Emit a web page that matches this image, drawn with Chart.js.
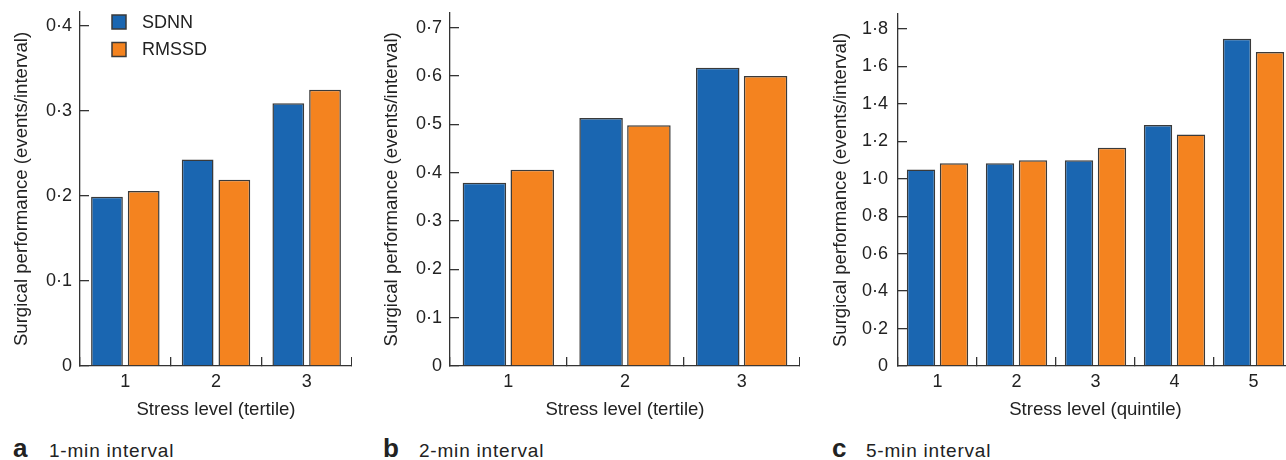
<!DOCTYPE html>
<html>
<head>
<meta charset="utf-8">
<script src="https://cdn.jsdelivr.net/npm/chart.js@4.4.1/dist/chart.umd.min.js"></script>
<style>
  html, body { margin: 0; padding: 0; background: #fff; overflow: hidden; width: 1286px; height: 460px; }
  canvas { position: absolute; top: 0; }
  .lbl { position: absolute; font-family: "Liberation Sans", Arial, sans-serif; color: #222; white-space: nowrap; line-height: 1; }
  .lbl.let { font-size: 26px; font-weight: bold; top: 435px; }
  .lbl.txt { font-size: 19px; letter-spacing: 0.8px; top: 441px; }
</style>
</head>
<body>
<canvas id="panelA" width="352" height="430" style="left:0px"></canvas>
<canvas id="panelB" width="430" height="430" style="left:370px"></canvas>
<canvas id="panelC" width="475" height="430" style="left:818px"></canvas>

<div class="lbl let" style="left:13px">a</div>
<div class="lbl txt" style="left:49px">1-min interval</div>
<div class="lbl let" style="left:383px">b</div>
<div class="lbl txt" style="left:419px">2-min interval</div>
<div class="lbl let" style="left:832px">c</div>
<div class="lbl txt" style="left:866px">5-min interval</div>

<script>
// ---------- dados ----------
const tertis = ["1", "2", "3"];
const quintis = ["1", "2", "3", "4", "5"];

const sdnn1min = [0.199, 0.243, 0.309];
const rmssd1min = [0.206, 0.219, 0.325];

const sdnn2min = [0.379, 0.513, 0.617];
const rmssd2min = [0.406, 0.498, 0.600];

const sdnn5min = [1.049, 1.083, 1.099, 1.287, 1.748];
const rmssd5min = [1.083, 1.099, 1.166, 1.236, 1.677];

const ticks1min = [0, 0.1, 0.2, 0.3, 0.4];
const ticks2min = [0, 0.1, 0.2, 0.3, 0.4, 0.5, 0.6, 0.7];
const ticks5min = [0, 0.2, 0.4, 0.6, 0.8, 1.0, 1.2, 1.4, 1.6, 1.8];

// ---------- estilo ----------
const FONT = '"Liberation Sans", Arial, sans-serif';
const TXT = "#222";
const AXIS = "#333";
const BLUE = "#1a66b1";
const ORANGE = "#f4831f";

// legenda dentro da área do gráfico (só painel a)
const legendaInterna = {
  id: "legendaInterna",
  afterDraw(chart, args, opts) {
    if (!opts.show) return;
    const { ctx, chartArea } = chart;
    ctx.save();
    ctx.font = "18px " + FONT;
    ctx.textBaseline = "middle";
    ctx.textAlign = "left";
    chart.data.datasets.forEach((ds, i) => {
      const x = chartArea.left + 32;
      const y = chartArea.top + 3 + i * 27.5;
      ctx.fillStyle = ds.backgroundColor;
      ctx.fillRect(x, y, 14, 14);
      ctx.strokeStyle = "#3a3a3a";
      ctx.lineWidth = 1.5;
      ctx.strokeRect(x, y, 14, 14);
      ctx.fillStyle = TXT;
      ctx.fillText(ds.label, x + 30, y + 8);
    });
    ctx.restore();
  }
};

function formatar(v) {
  return v === 0 ? "0" : v.toFixed(1).replace(".", "·");
}

function criarPainel(id, cfg) {
  const ctx = document.getElementById(id).getContext("2d");
  return new Chart(ctx, {
    type: "bar",
    data: {
      labels: cfg.labels,
      datasets: [
        { label: "SDNN", data: cfg.sdnn, backgroundColor: BLUE, borderColor: "#3a3a3a", borderWidth: 1.5,
          categoryPercentage: cfg.catPct, barPercentage: cfg.barPct },
        { label: "RMSSD", data: cfg.rmssd, backgroundColor: ORANGE, borderColor: "#3a3a3a", borderWidth: 1.5,
          categoryPercentage: cfg.catPct, barPercentage: cfg.barPct }
      ]
    },
    options: {
      responsive: false,
      animation: false,
      devicePixelRatio: 1,
      layout: { padding: { top: cfg.padTop, left: 0, right: 0, bottom: 0 } },
      plugins: {
        legend: { display: false },
        tooltip: { enabled: false },
        legendaInterna: { show: cfg.legenda }
      },
      scales: {
        x: {
          afterFit: (s) => { s.height = 64; s.paddingLeft = 0; s.paddingRight = 0; },
          grid: { display: true, drawOnChartArea: false, drawTicks: true, tickLength: -9, color: AXIS, lineWidth: 1.3, offset: true },
          border: { display: true, color: AXIS, width: 1.3 },
          ticks: { color: TXT, font: { family: FONT, size: 18 }, padding: 14 },
          title: { display: true, text: cfg.xTitle, color: TXT, font: { family: FONT, size: 18.6 }, padding: { top: 0, bottom: 9 } }
        },
        y: {
          min: 0,
          max: cfg.max,
          afterFit: (s) => { s.width = cfg.yWidth; s.paddingTop = 0; s.paddingBottom = 0; },
          afterBuildTicks: (s) => { s.ticks = cfg.ticks.map(v => ({ value: v })); },
          grid: { display: true, drawOnChartArea: false, drawTicks: true, tickLength: -9, color: AXIS, lineWidth: 1.3 },
          border: { display: true, color: AXIS, width: 1.3 },
          ticks: { color: TXT, font: { family: FONT, size: 18 }, padding: cfg.tickPad, callback: (v) => formatar(v) },
          title: { display: true, text: "Surgical performance (events/interval)", color: TXT,
                   font: { family: FONT, size: 18.6 }, padding: { top: cfg.titlePad, bottom: 0 } }
        }
      }
    },
    plugins: [legendaInterna]
  });
}

criarPainel("panelA", {
  labels: tertis, sdnn: sdnn1min, rmssd: rmssd1min, ticks: ticks1min, max: 0.4165,
  xTitle: "Stress level (tertile)", padTop: 12, yWidth: 80, titlePad: 10.5, tickPad: 17,
  catPct: 0.81, barPct: 0.865, legenda: true
});

criarPainel("panelB", {
  labels: tertis, sdnn: sdnn2min, rmssd: rmssd2min, ticks: ticks2min, max: 0.731,
  xTitle: "Stress level (tertile)", padTop: 12.7, yWidth: 80, titlePad: 10.5, tickPad: 17,
  catPct: 0.82, barPct: 0.91, legenda: false
});

criarPainel("panelC", {
  labels: quintis, sdnn: sdnn5min, rmssd: rmssd5min, ticks: ticks5min, max: 1.88,
  xTitle: "Stress level (quintile)", padTop: 14, yWidth: 80, titlePad: 11.5, tickPad: 19,
  catPct: 0.835, barPct: 0.86, legenda: false
});
</script>
</body>
</html>
